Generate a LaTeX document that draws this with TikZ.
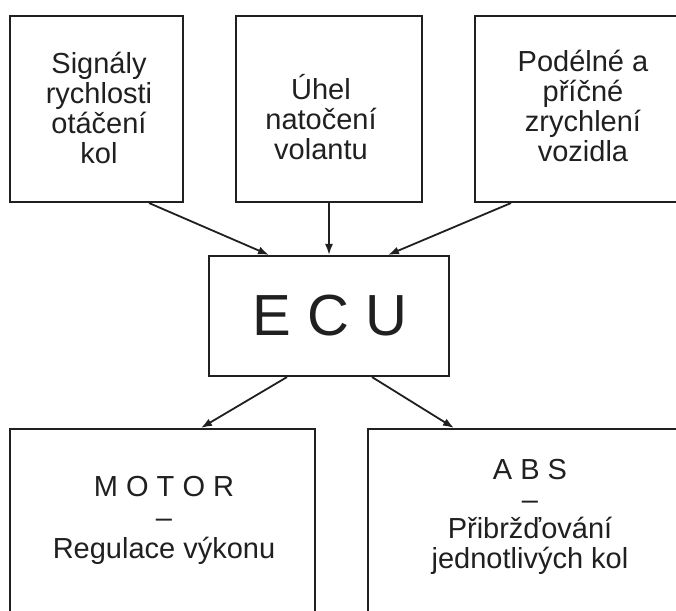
\documentclass[tikz,border=0pt]{standalone}
\usepackage{fontspec}
\setmainfont{Liberation Sans}
\usetikzlibrary{arrows.meta}
\definecolor{ink}{RGB}{32,32,32}
\tikzset{
  box/.style={draw=ink, line width=2.1pt, fill=none, inner sep=0pt},
  lbl/.style={text=ink, inner sep=0pt, align=center, font=\fontsize{29}{30}\selectfont},
  big/.style={text=ink, inner sep=0pt, font=\fontsize{58}{60}\selectfont},
  conn/.style={draw=ink, line width=1.8pt, -{Latex[length=11pt,width=8pt]}}
}
\begin{document}
\begin{tikzpicture}[x=1pt,y=-1pt]
\fill[white] (0,0) rectangle (676,610);
\clip (0,0) rectangle (676,610);
% top boxes
\node[box, minimum width=173pt, minimum height=186pt] (b1) at (96.5,109) {};
\node[box, minimum width=186pt, minimum height=186pt] (b2) at (329,109) {};
\node[box, minimum width=217pt, minimum height=186pt] (b3) at (583.5,109) {};
\node[lbl] (t1) at (99,107.75) {Signály\\rychlosti\\otáčení\\kol};
\node[lbl] (t2) at (321,117) {Úhel\\natočení\\volantu};
\node[lbl] (t3) at (583,106) {Podélné a\\příčné\\zrychlení\\vozidla};
% ECU
\node[box, minimum width=240pt, minimum height=120pt] (ecu) at (329,316) {};
\node[big] (ecut) at (330,316) {E C U};
% bottom boxes
\node[box, minimum width=305pt, minimum height=221pt] (mb) at (162.5,539.5) {};
\node[box, minimum width=324pt, minimum height=221pt] (ab) at (530,539.5) {};
\node[lbl, font=\fontsize{29}{31}\selectfont] (mt) at (164,520) {M O T O R\\–\\Regulace výkonu};
\node[lbl, font=\fontsize{29}{29.5}\selectfont] (at) at (530,517) {A B S\\–\\Přibržďování\\jednotlivých kol};
% connectors
\draw[conn] ([xshift=-35pt]b1.south east) -- ([xshift=-60pt]ecu.north);
\draw[conn] (b2.south) -- (ecu.north);
\draw[conn] ([xshift=37pt]b3.south west) -- ([xshift=59pt]ecu.north);
\draw[conn] ([xshift=-42pt]ecu.south) -- ([xshift=192pt]mb.north west);
\draw[conn] ([xshift=43pt]ecu.south) -- ([xshift=87pt]ab.north west);
\end{tikzpicture}
\end{document}
